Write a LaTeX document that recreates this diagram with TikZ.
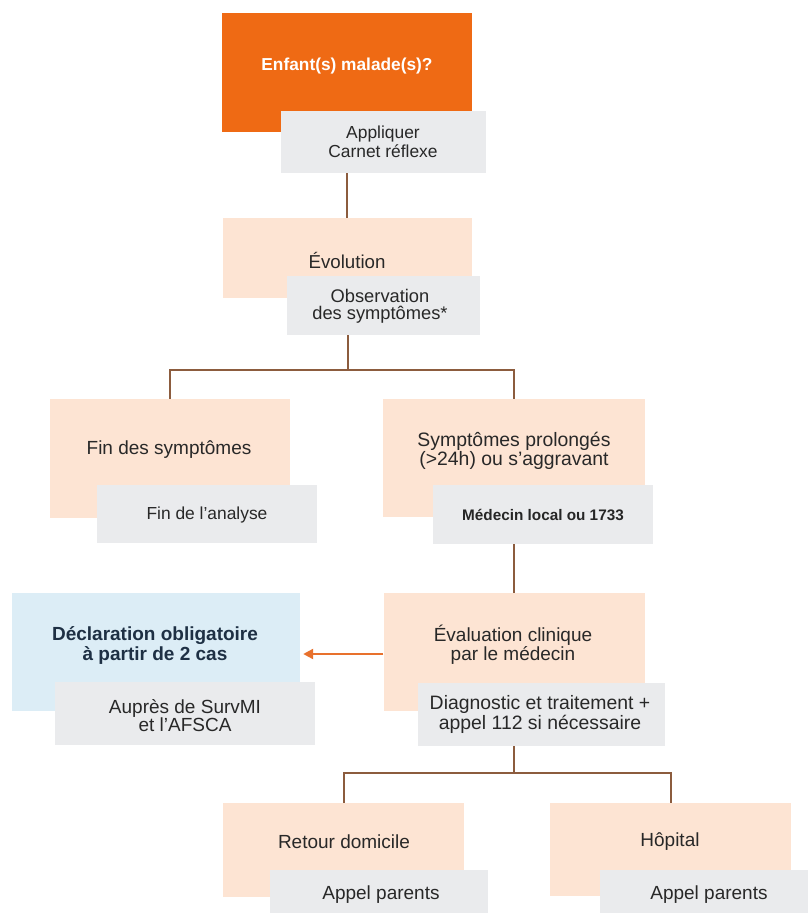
\documentclass[tikz,border=0pt]{standalone}
\usepackage{fontspec}
\setmainfont{Liberation Sans}
\usetikzlibrary{arrows.meta}
\definecolor{orangec}{RGB}{239,106,20}
\definecolor{peachc}{RGB}{253,228,211}
\definecolor{greyc}{RGB}{234,235,237}
\definecolor{bluec}{RGB}{220,237,246}
\definecolor{linec}{RGB}{140,92,62}
\definecolor{arrowc}{RGB}{232,113,45}
\definecolor{txtc}{RGB}{40,40,40}
\definecolor{navyc}{RGB}{30,48,68}
\begin{document}
\begin{tikzpicture}[x=1pt,y=-1pt,
  fillbox/.style={rectangle, draw=none, inner sep=0pt},
  peach/.style={fillbox, fill=peachc},
  greybox/.style={fillbox, fill=greyc},
  txt/.style={inner sep=0pt, align=center, text=txtc, font=\fontsize{19}{19}\selectfont},
  smalltxt/.style={txt, font=\fontsize{17.4}{18.5}\selectfont},
  conn/.style={draw=linec, line width=2pt},
  arr/.style={draw=arrowc, line width=2.2pt, -{Triangle[length=10pt,width=10pt]}}]
\clip (0,0) rectangle (808,913);
\fill[white] (0,0) rectangle (808,913);

% top
\node[fillbox, fill=orangec, minimum width=250, minimum height=119] (top) at (347,72.5) {};
\node[txt, text=white, font=\bfseries\fontsize{17.3}{19}\selectfont] (topT) at (347,66) {Enfant(s) malade(s)?};
\node[greybox, minimum width=205, minimum height=62] (g1) at (383.5,142) {};
\node[smalltxt] (g1T) at (383,142) {Appliquer\\Carnet réflexe};

% evolution
\node[peach, minimum width=249, minimum height=80] (evo) at (347,258) {};
\node[txt, font=\fontsize{18.7}{19}\selectfont] (evoT) at (347,260) {Évolution};
\node[greybox, minimum width=193, minimum height=59] (g2) at (383.5,305.5) {};
\node[txt, font=\fontsize{18.3}{17.5}\selectfont] (g2T) at (380,306.5) {Observation\\des symptômes*};

% fin
\node[peach, minimum width=240, minimum height=119] (fin) at (170,458.5) {};
\node[txt] (finT) at (169,450) {Fin des symptômes};
\node[greybox, minimum width=220, minimum height=58] (g3) at (207,514) {};
\node[smalltxt] (g3T) at (207,515) {Fin de l’analyse};

% symptomes prolonges
\node[peach, minimum width=262, minimum height=118] (sym) at (514,458) {};
\node[txt, font=\fontsize{19.4}{18.5}\selectfont] (symT) at (514,451) {Symptômes prolongés\\(>24h) ou s’aggravant};
\node[greybox, minimum width=220, minimum height=59] (g4) at (543,514.5) {};
\node[txt, text=black!85, font=\bfseries\fontsize{15.3}{17}\selectfont] (g4T) at (543,515) {Médecin local ou 1733};

% evaluation
\node[peach, minimum width=261, minimum height=118] (eval) at (514,652) {};
\node[txt] (evalT) at (513,644.5) {Évaluation clinique\\par le médecin};
\node[greybox, minimum width=247, minimum height=63] (g5) at (541.5,714.5) {};
\node[txt, font=\fontsize{19.4}{17.5}\selectfont] (g5T) at (540,714.5) {Diagnostic et traitement +\\appel 112 si nécessaire};

% declaration
\node[fillbox, fill=bluec, minimum width=288, minimum height=118] (decl) at (156,652) {};
\node[txt, text=navyc, font=\bfseries\fontsize{19}{20}\selectfont] (declT) at (155,645) {Déclaration obligatoire\\à partir de 2 cas};
\node[greybox, minimum width=260, minimum height=63] (g6) at (185,713.5) {};
\node[txt, font=\fontsize{19}{18}\selectfont] (g6T) at (185,716) {Auprès de SurvMI\\et l’AFSCA};

% bottom
\node[peach, minimum width=241, minimum height=94] (ret) at (343.5,850) {};
\node[txt] (retT) at (344,842) {Retour domicile};
\node[greybox, minimum width=218, minimum height=50] (g7) at (379,895) {};
\node[txt] (g7T) at (381,895) {Appel parents};

\node[peach, minimum width=241, minimum height=93] (hop) at (670.5,849.5) {};
\node[txt] (hopT) at (670,842) {Hôpital};
\node[greybox, minimum width=218, minimum height=50] (g8) at (709,895) {};
\node[txt] (g8T) at (709,895) {Appel parents};

% connectors
\coordinate (j1) at (348,370);
\coordinate (j2) at (514,773);
\draw[conn] (g1.south -| evo.north) -- (evo.north);
\draw[conn] (g2.south -| j1) -- (j1);
\draw[conn] (fin.north) -- (fin.north |- j1) -- (sym.north |- j1) -- (sym.north);
\draw[conn] (g4.south -| sym.north) -- (eval.north);
\draw[conn] (g5.south -| j2) -- (j2);
\draw[conn] (ret.north) -- (ret.north |- j2) -- (hop.north |- j2) -- (hop.north);
\draw[arr, shorten >=3pt] ([yshift=-2pt]eval.west) -- ([yshift=-2pt]decl.east);
\end{tikzpicture}
\end{document}
